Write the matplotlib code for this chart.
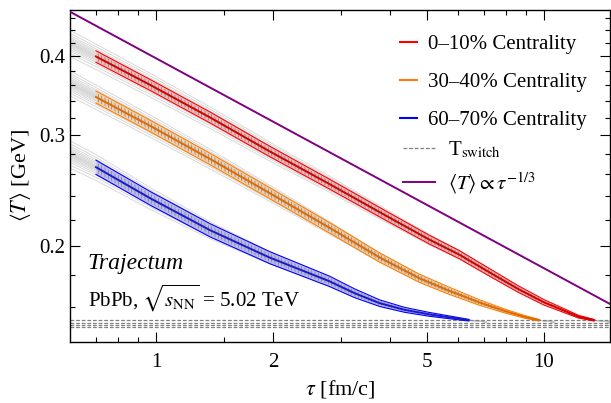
import numpy as np
import matplotlib
matplotlib.use("Agg")
import matplotlib.pyplot as plt
from matplotlib.lines import Line2D
from matplotlib.ticker import FixedLocator, NullFormatter

plt.rcParams['font.family'] = 'serif'
plt.rcParams['font.serif'] = ['Liberation Serif', 'DejaVu Serif']
plt.rcParams['mathtext.fontset'] = 'stix'
plt.rcParams['hatch.linewidth'] = 0.5

# mean temperature vs proper time
# first point (tau = 0.6) is only used by the thin gray event curves
tau_0_10 = [0.60, 0.70, 0.97, 1.38, 1.96, 2.80, 4.0, 5.06, 6.05, 7.22, 8.6, 10.0, 11.3, 12.3, 13.45]
T_0_10 = [0.420, 0.400, 0.360, 0.320, 0.283, 0.251, 0.222, 0.205, 0.194, 0.182, 0.171, 0.163,
          0.158, 0.1546, 0.1527]
err_0_10 = [0.021, 0.021, 0.020, 0.020, 0.019, 0.018, 0.017, 0.016, 0.015, 0.014, 0.012, 0.010,
            0.007, 0.005, 0.003]

tau_30_40 = [0.60, 0.70, 0.97, 1.38, 1.96, 2.80, 3.77, 4.77, 5.70, 6.8, 7.9, 8.9, 9.7]
T_30_40 = [0.363, 0.345, 0.310, 0.275, 0.243, 0.214, 0.192, 0.178, 0.170, 0.163, 0.158, 0.1546, 0.1527]
err_30_40 = [0.022, 0.022, 0.021, 0.021, 0.020, 0.019, 0.017, 0.015, 0.013, 0.010, 0.007, 0.005, 0.003]

tau_60_70 = [0.60, 0.70, 0.97, 1.38, 1.96, 2.80, 3.25, 3.77, 4.37, 5.06, 5.7, 6.4]
T_60_70 = [0.280, 0.267, 0.238, 0.212, 0.192, 0.176, 0.1685, 0.1625, 0.1586, 0.1560, 0.1543, 0.1527]
err_60_70 = [0.026, 0.026, 0.025, 0.024, 0.022, 0.019, 0.016, 0.012, 0.009, 0.007, 0.005, 0.003]

# where the gray event curves stop
tau_tail = [14.8, 10.6, 7.1]

# spread of the individual gray curves around the mean (fraction of T - T_end)
gray_spread = [-1.0, -0.78, -0.6, -0.46, -0.34, -0.24, -0.15, -0.07, 0.0,
               0.07, 0.15, 0.24, 0.34, 0.46, 0.6, 0.78, 1.0]
gray_width = [0.075, 0.08, 0.11]

T_switch = [0.1527, 0.1514, 0.1501, 0.1488]

tau_scaling = [0.6, 14.8]
T_scaling = [0.471, 0.162]

labels = ['0\u201310% Centrality', '30\u201340% Centrality', '60\u201370% Centrality']
colors = ['#ff0000', '#ff8000', '#0000ff']
dark = ['#d00000', '#e06a00', '#1a1acc']
fills = ['#ff9a9a', '#ffc890', '#9a9aff']

fig = plt.figure(figsize=(6.11, 4.03), dpi=100)
ax = fig.add_axes([70 / 611, 61 / 403, 540 / 611, 332 / 403])
ax.set_xscale('log')
ax.set_yscale('log')

groups = [(tau_0_10, T_0_10, err_0_10), (tau_30_40, T_30_40, err_30_40),
          (tau_60_70, T_60_70, err_60_70)]

for k, (tau, T, err) in enumerate(groups):
    tau = np.array(tau)
    T = np.array(T)
    err = np.array(err)
    T_end = T[-1]
    # individual events in gray
    for s in gray_spread:
        tg = np.append(tau, tau_tail[k])
        Tg = np.append(T_end + (T - T_end) * (1 + s * gray_width[k]), T_end - 0.001)
        ax.plot(tg, Tg, color='#c8c8c8', lw=0.6, alpha=0.8, zorder=1)
    t = tau[1:]
    c = T[1:]
    e = err[1:]
    ax.fill_between(t, c * (1 - e), c * (1 + e), color=fills[k], alpha=0.5, lw=0, zorder=2)
    ax.fill_between(t, c * (1 - 0.7 * e), c * (1 + 0.7 * e), facecolor='none',
                    edgecolor='#808080', hatch='|||||', lw=0, zorder=3)
    ax.plot(t, c * (1 - e), color=colors[k], lw=0.8, zorder=4)
    ax.plot(t, c * (1 + e), color=colors[k], lw=0.8, zorder=4)
    ax.plot(t, c, color=dark[k], lw=1.4, zorder=5)

for ts in T_switch:
    ax.axhline(ts, color='#808080', lw=0.9, dashes=(3, 1.5), zorder=2)

ax.plot(tau_scaling, T_scaling, color='#800080', lw=1.4, zorder=6)

ax.set_xlim(0.6, 14.8)
ax.set_ylim(0.141, 0.474)

ax.xaxis.set_major_locator(FixedLocator([1, 2, 5, 10]))
ax.xaxis.set_minor_locator(FixedLocator([0.7, 0.8, 0.9, 1.5, 3, 4, 6, 7, 8, 9]))
ax.set_xticklabels(['1', '2', '5', '10'])
ax.xaxis.set_minor_formatter(NullFormatter())
ax.yaxis.set_major_locator(FixedLocator([0.2, 0.3, 0.4]))
ax.yaxis.set_minor_locator(FixedLocator([0.16, 0.18, 0.22, 0.24, 0.26, 0.28, 0.32,
                                         0.34, 0.36, 0.38, 0.42, 0.44, 0.46]))
ax.set_yticklabels(['0.2', '0.3', '0.4'])
ax.yaxis.set_minor_formatter(NullFormatter())
ax.tick_params(which='both', direction='in', top=True, right=True, labelsize=15, width=0.8)
ax.tick_params(which='major', length=7)
ax.tick_params(which='minor', length=3.5)
ax.tick_params(axis='x', which='major', pad=8)
for sp in ax.spines.values():
    sp.set_linewidth(1.0)

ax.set_xlabel(r'$\tau$ [fm/c]', fontsize=16, labelpad=4)
ax.set_ylabel(r'$\langle T\rangle$ [GeV]', fontsize=16, labelpad=4)

ax.text(0.033, 0.22, 'Trajectum', transform=ax.transAxes, fontsize=17, style='italic',
        va='baseline')
ax.text(0.033, 0.108, r'PbPb, $\sqrt{s_{\mathrm{NN}}}$ = 5.02 TeV', transform=ax.transAxes,
        fontsize=15, va='baseline')

h1 = [Line2D([], [], color=colors[i], lw=1.5) for i in range(3)]
leg1 = ax.legend(h1, labels, loc='upper left', bbox_to_anchor=((400 - 70) / 540, 0.925),
                 frameon=False, fontsize=15, handlelength=0.82, handletextpad=0.5,
                 labelspacing=0.88, borderpad=0, borderaxespad=0)
ax.add_artist(leg1)
h2 = [Line2D([], [], color='#808080', lw=0.9, dashes=(3, 1.5)),
      Line2D([], [], color='#800080', lw=1.4)]
ax.legend(h2, [r'T$_{\mathrm{switch}}$', r'$\langle T\rangle \propto \tau^{-1/3}$'],
          loc='upper left', bbox_to_anchor=((403 - 70) / 540, (342 - 140) / 332),
          frameon=False, fontsize=15, handlelength=1.55, handletextpad=0.6,
          labelspacing=0.45, borderpad=0, borderaxespad=0)

fig.savefig('out.png', dpi=100)
